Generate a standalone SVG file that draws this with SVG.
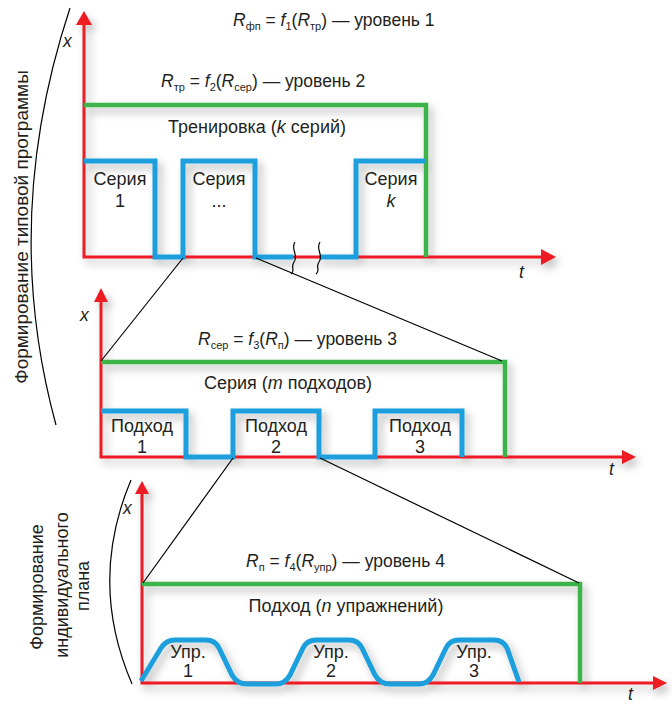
<svg xmlns="http://www.w3.org/2000/svg" width="672" height="705" viewBox="0 0 672 705">
<defs>
<filter id="sh" x="-20%" y="-20%" width="140%" height="140%">
<feDropShadow dx="4" dy="5" stdDeviation="4" flood-color="#000" flood-opacity="0.28"/>
</filter>
<style>
.ax{fill:none;stroke:#ec1c24;stroke-width:3}
.ah{fill:#ec1c24}
.gr{fill:none;stroke:#3cb44a;stroke-width:4.5}
.bl{fill:none;stroke:#1a9fdc;stroke-width:5}
.cn{fill:none;stroke:#000;stroke-width:1.2}
text{font-family:"Liberation Sans",Arial,sans-serif;fill:#231f20}
.lbl{font-size:18px;text-anchor:middle}
.eq{font-size:17.5px}
.i{font-style:italic}
.sub{font-size:11px}
.rot{font-size:19px;text-anchor:middle}
.rot2{font-size:18px;text-anchor:middle}
</style>
</defs>
<rect width="672" height="705" fill="#fff"/>

<g id="side-labels">
<path class="cn" d="M70,8 Q0,220 56,425"/>
<text class="rot" transform="translate(28,227) rotate(-90)">Формирование типовой программы</text>
<path class="cn" d="M131,480 Q88,582 132,684"/>
<text class="rot2" transform="translate(43,587) rotate(-90)">Формирование</text>
<text class="rot2" transform="translate(68,585) rotate(-90)">индивидуального</text>
<text class="rot2" transform="translate(89,586) rotate(-90)">плана</text>
</g>

<g id="panel1">
<g filter="url(#sh)">
<path class="ax" d="M84,24 L84,257 L544,257"/>
<polygon class="ah" points="84,11 76,25 92,25"/>
<polygon class="ah" points="556,257 541,249 541,265"/>
<path class="gr" d="M84,105 L426,105 L426,257"/>
<path class="bl" d="M84,161 L155,161 L155,257 L183,257 L183,161 L255,161 L255,257 L293,257"/>
<path class="bl" d="M320,257 L356,257 L356,161 L426,161"/>
</g>
<path class="cn" d="M295,242 C290,249 299,255 294,262 C290,268 296,270 291,274"/>
<path class="cn" d="M320,242 C315,249 324,255 319,262 C315,268 321,270 316,274"/>
<text class="eq i" x="63" y="47">x</text>
<text class="eq i" x="519" y="278">t</text>
<text class="eq" x="233" y="26"><tspan class="i">R</tspan><tspan class="sub" dy="4">фп</tspan><tspan dy="-4"> = </tspan><tspan class="i">f</tspan><tspan class="sub" dy="4">1</tspan><tspan dy="-4">(</tspan><tspan class="i">R</tspan><tspan class="sub" dy="4">тр</tspan><tspan dy="-4">) — уровень 1</tspan></text>
<text class="eq" x="161" y="87"><tspan class="i">R</tspan><tspan class="sub" dy="4">тр</tspan><tspan dy="-4"> = </tspan><tspan class="i">f</tspan><tspan class="sub" dy="4">2</tspan><tspan dy="-4">(</tspan><tspan class="i">R</tspan><tspan class="sub" dy="4">сер</tspan><tspan dy="-4">) — уровень 2</tspan></text>
<text class="lbl" x="257" y="133">Тренировка (<tspan class="i">k</tspan> серий)</text>
<text class="lbl" x="120" y="185">Серия</text>
<text class="lbl" x="120" y="207">1</text>
<text class="lbl" x="219" y="185">Серия</text>
<text class="lbl" x="219" y="207">...</text>
<text class="lbl" x="391" y="185">Серия</text>
<text class="lbl i" x="391" y="207">k</text>
</g>

<g id="panel2">
<g filter="url(#sh)">
<path class="ax" d="M101,300 L101,457 L625,457"/>
<polygon class="ah" points="101,288 94,302 108,302"/>
<polygon class="ah" points="636,457 622,450 622,464"/>
<path class="gr" d="M101,362 L505,362 L505,457"/>
<path class="bl" d="M101,411 L186,411 L186,457 L233,457 L233,411 L319,411 L319,457 L375,457 L375,411 L462,411 L462,457"/>
</g>
<text class="eq i" x="80" y="321">x</text>
<text class="eq i" x="609" y="475">t</text>
<text class="eq" x="198" y="345"><tspan class="i">R</tspan><tspan class="sub" dy="4">сер</tspan><tspan dy="-4"> =  </tspan><tspan class="i">f</tspan><tspan class="sub" dy="4">3</tspan><tspan dy="-4">(</tspan><tspan class="i">R</tspan><tspan class="sub" dy="4">п</tspan><tspan dy="-4">) — уровень 3</tspan></text>
<text class="lbl" x="288" y="389">Серия (<tspan class="i">m</tspan> подходов)</text>
<text class="lbl" x="142" y="432">Подход</text>
<text class="lbl" x="142" y="453">1</text>
<text class="lbl" x="276" y="432">Подход</text>
<text class="lbl" x="276" y="453">2</text>
<text class="lbl" x="420" y="432">Подход</text>
<text class="lbl" x="420" y="453">3</text>
</g>

<g id="panel3">
<g filter="url(#sh)">
<path class="ax" d="M142,492 L142,683 L655,683"/>
<polygon class="ah" points="142,481 135,494 149,494"/>
<polygon class="ah" points="667,683 653,676 653,690"/>
<path class="gr" d="M142,584 L580,584 L580,683"/>
<path class="bl" d="M141,681 L161,648 Q166,640 175,640 L206,640 Q215,640 219,648 L232,675 Q237,684 247,684 L276,684 Q285,684 290,675 L303,648 Q307,640 316,640 L349,640 Q358,640 362,648 L375,675 Q380,684 390,684 L419,684 Q428,684 433,675 L446,648 Q450,640 459,640 L494,640 Q503,640 507,648 L519,682"/>
</g>
<text class="eq i" x="123" y="514">x</text>
<text class="eq i" x="628" y="700">t</text>
<text class="eq" x="246" y="567"><tspan class="i">R</tspan><tspan class="sub" dy="4">п</tspan><tspan dy="-4"> = </tspan><tspan class="i">f</tspan><tspan class="sub" dy="4">4</tspan><tspan dy="-4">(</tspan><tspan class="i">R</tspan><tspan class="sub" dy="4">упр</tspan><tspan dy="-4">) — уровень 4</tspan></text>
<text class="lbl" x="346" y="612">Подход (<tspan class="i">n</tspan> упражнений)</text>
<text class="lbl" x="188" y="658">Упр.</text>
<text class="lbl" x="188" y="677">1</text>
<text class="lbl" x="331" y="658">Упр.</text>
<text class="lbl" x="331" y="677">2</text>
<text class="lbl" x="474" y="658">Упр.</text>
<text class="lbl" x="474" y="677">3</text>
</g>

<g id="connectors">
<path class="cn" d="M183,258 L101,361"/>
<path class="cn" d="M256,258 L502,361"/>
<path class="cn" d="M233,458 L143,583"/>
<path class="cn" d="M320,458 L579,583"/>
</g>
</svg>
